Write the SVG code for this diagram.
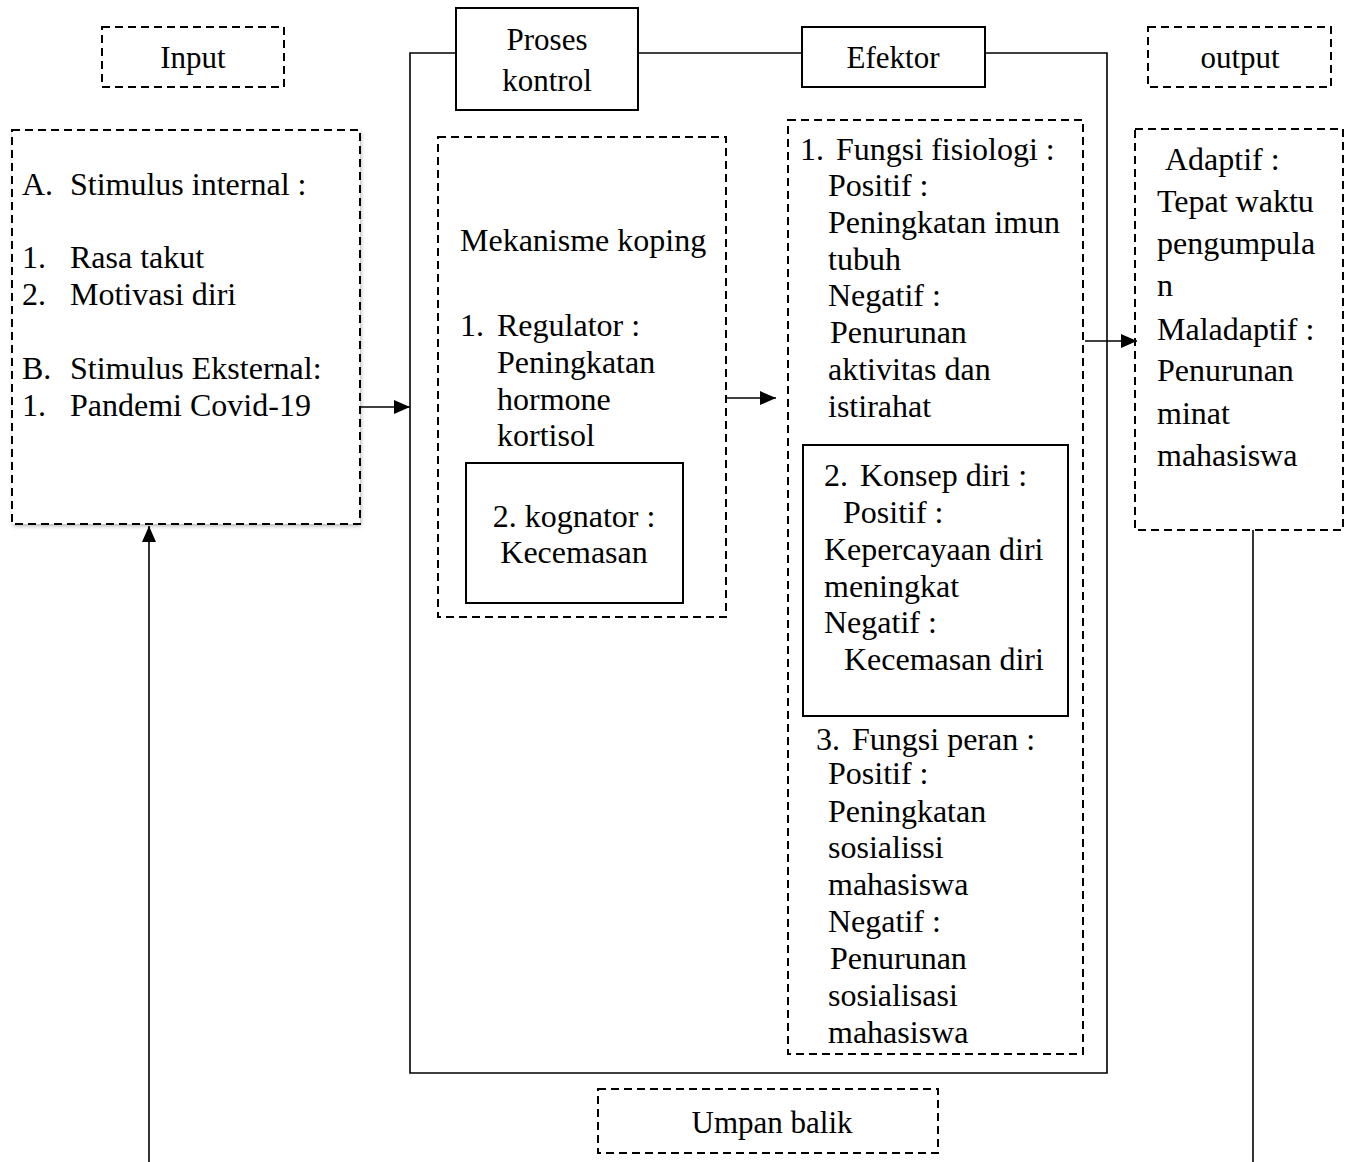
<svg xmlns="http://www.w3.org/2000/svg" width="1345" height="1162" viewBox="0 0 1345 1162">
<style>
text{font-family:"Liberation Serif","Times New Roman",serif;font-size:32px;fill:#000}
.c{text-anchor:middle}
.h{font-size:31px}
.d{fill:none;stroke:#000;stroke-width:2;stroke-dasharray:8 5}
.s{fill:none;stroke:#000;stroke-width:2}
.ln{fill:none;stroke:#000;stroke-width:1.6}
</style>
<defs>
<marker id="ah2" viewBox="0 0 16 14" refX="16" refY="7" markerWidth="16" markerHeight="14" markerUnits="userSpaceOnUse" orient="auto"><path d="M0,0 L16,7 L0,14 z" fill="#000"/></marker>
<filter id="sh" x="-5%" y="-5%" width="115%" height="115%"><feDropShadow dx="1" dy="2" stdDeviation="2" flood-color="#000" flood-opacity="0.3"/></filter>
</defs>

<g id="connectors">
<polyline class="ln" points="456,53 410,53 410,1073 1107,1073 1107,53 985,53"/>
<line class="ln" x1="638" y1="53" x2="802" y2="53"/>
<line class="ln" x1="360" y1="407" x2="410" y2="407" marker-end="url(#ah2)"/>
<line class="ln" x1="726" y1="398" x2="776" y2="398" marker-end="url(#ah2)"/>
<line class="ln" x1="1085" y1="341" x2="1137" y2="341" marker-end="url(#ah2)"/>
<line class="ln" x1="1253" y1="530" x2="1253" y2="1162"/>
<line class="ln" x1="149" y1="1162" x2="149" y2="526" marker-end="url(#ah2)"/>
</g>

<g id="input-label">
<rect class="d" x="102" y="27" width="182" height="60"/>
<text class="c h" x="193" y="68">Input</text>
</g>

<g id="proses-kontrol">
<rect class="s" x="456" y="8" width="182" height="102" fill="#fff"/>
<text class="c h" x="547" y="50">Proses</text>
<text class="c h" x="547" y="91">kontrol</text>
</g>

<g id="efektor-label">
<rect class="s" x="802" y="27" width="183" height="60" fill="#fff"/>
<text class="c h" x="893" y="68">Efektor</text>
</g>

<g id="output-label">
<rect class="d" x="1148" y="27" width="183" height="60"/>
<text class="c h" x="1240" y="68">output</text>
</g>

<g id="input-box">
<rect x="12" y="130" width="348" height="394" fill="#fff" filter="url(#sh)"/>
<rect class="d" x="12" y="130" width="348" height="394"/>
<text x="22" y="195">A.</text><text x="70" y="195">Stimulus internal :</text>
<text x="22" y="268">1.</text><text x="70" y="268">Rasa takut</text>
<text x="22" y="305">2.</text><text x="70" y="305">Motivasi diri</text>
<text x="22" y="379">B.</text><text x="70" y="379">Stimulus Eksternal:</text>
<text x="22" y="416">1.</text><text x="70" y="416">Pandemi Covid-19</text>
</g>

<g id="mekanisme-koping">
<rect class="d" x="438" y="137" width="288" height="480"/>
<text x="460" y="251">Mekanisme koping</text>
<text x="460" y="336">1.</text><text x="497" y="336">Regulator :</text>
<text x="497" y="373">Peningkatan</text>
<text x="497" y="410">hormone</text>
<text x="497" y="446">kortisol</text>
</g>

<g id="kognator">
<rect class="s" x="466" y="463" width="217" height="140"/>
<text class="c" x="574" y="527">2. kognator :</text>
<text class="c" x="574" y="563">Kecemasan</text>
</g>

<g id="efektor-box">
<rect class="d" x="788" y="120" width="295" height="934"/>
<text x="800" y="160">1.</text><text x="836" y="160">Fungsi fisiologi :</text>
<text x="828" y="196">Positif :</text>
<text x="828" y="233">Peningkatan imun</text>
<text x="828" y="270">tubuh</text>
<text x="828" y="306">Negatif :</text>
<text x="830" y="343">Penurunan</text>
<text x="828" y="380">aktivitas dan</text>
<text x="828" y="417">istirahat</text>
<text x="816" y="750">3.</text><text x="852" y="750">Fungsi peran :</text>
<text x="828" y="784">Positif :</text>
<text x="828" y="822">Peningkatan</text>
<text x="828" y="858">sosialissi</text>
<text x="828" y="895">mahasiswa</text>
<text x="828" y="932">Negatif :</text>
<text x="830" y="969">Penurunan</text>
<text x="828" y="1006">sosialisasi</text>
<text x="828" y="1043">mahasiswa</text>
</g>

<g id="konsep-diri">
<rect class="s" x="803" y="445" width="265" height="271"/>
<text x="824" y="486">2.</text><text x="860" y="486">Konsep diri :</text>
<text x="843" y="523">Positif :</text>
<text x="824" y="560">Kepercayaan diri</text>
<text x="824" y="597">meningkat</text>
<text x="824" y="633">Negatif :</text>
<text x="844" y="670">Kecemasan diri</text>
</g>

<g id="output-box">
<rect class="d" x="1135" y="129" width="208" height="401"/>
<text x="1165" y="170">Adaptif :</text>
<text x="1157" y="212">Tepat waktu</text>
<text x="1157" y="254">pengumpula</text>
<text x="1157" y="296">n</text>
<text x="1157" y="340">Maladaptif :</text>
<text x="1157" y="381">Penurunan</text>
<text x="1157" y="424">minat</text>
<text x="1157" y="466">mahasiswa</text>
</g>

<g id="umpan-balik">
<rect class="d" x="598" y="1089" width="340" height="64"/>
<text class="c h" x="772" y="1133">Umpan balik</text>
</g>
</svg>
